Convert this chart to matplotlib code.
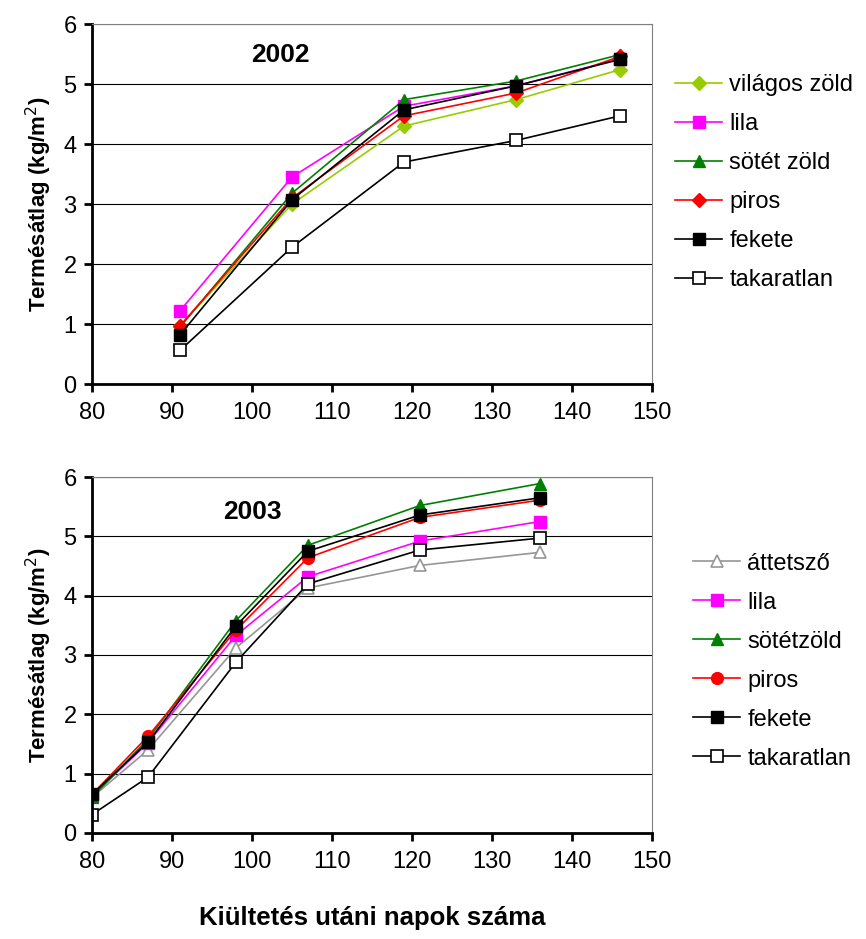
import matplotlib
matplotlib.use('Agg')
import matplotlib.pyplot as plt

plt.rcParams['font.family'] = ['Liberation Sans', 'DejaVu Sans']

# 2002 data
days_2002 = [91, 105, 119, 133, 146]
vilagos_zold_2002 = [0.97, 3.00, 4.30, 4.74, 5.24]
lila_2002 = [1.22, 3.45, 4.63, 4.97, 5.42]
sotet_zold_2002 = [0.95, 3.18, 4.74, 5.05, 5.49]
piros_2002 = [0.97, 3.10, 4.47, 4.85, 5.46]
fekete_2002 = [0.82, 3.07, 4.57, 4.97, 5.41]
takaratlan_2002 = [0.56, 2.28, 3.70, 4.06, 4.47]

# 2003 data
days_2003 = [80, 87, 98, 107, 121, 136]
attetszo_2003 = [0.60, 1.40, 3.12, 4.13, 4.51, 4.73]
lila_2003 = [0.62, 1.52, 3.33, 4.32, 4.92, 5.25]
sotetzold_2003 = [0.60, 1.58, 3.58, 4.85, 5.52, 5.89]
piros_2003 = [0.65, 1.63, 3.42, 4.64, 5.32, 5.61]
fekete_2003 = [0.65, 1.53, 3.49, 4.75, 5.36, 5.65]
takaratlan_2003 = [0.31, 0.94, 2.88, 4.20, 4.77, 4.97]

ylabel = 'Termésátlag (kg/m$^2$)'
xlabel = 'Kiültetés utáni napok száma'

fig = plt.figure(figsize=(8.66, 9.39), dpi=100)
ax1 = fig.add_axes([0.1062, 0.591, 0.6467, 0.3834])
ax2 = fig.add_axes([0.1062, 0.1129, 0.6467, 0.3791])


def style_axes(ax):
    ax.set_xlim(80, 150)
    ax.set_ylim(0, 6)
    ax.set_xticks(range(80, 151, 10))
    ax.set_yticks(range(0, 7))
    ax.yaxis.grid(True, color='black', linewidth=0.8)
    ax.set_axisbelow(True)
    for side in ['left', 'bottom']:
        ax.spines[side].set_linewidth(2)
        ax.spines[side].set_color('black')
    for side in ['top', 'right']:
        ax.spines[side].set_linewidth(0.8)
        ax.spines[side].set_color('#808080')
    ax.tick_params(axis='both', direction='out', length=6, width=2,
                   labelsize=17, pad=5)
    ax.tick_params(axis='x', pad=7)
    ax.set_ylabel(ylabel, fontsize=16, fontweight='bold', labelpad=7)


lw = 1.2
leg_kw = dict(frameon=False, fontsize=17, handlelength=2.0,
              handletextpad=0.3, labelspacing=0.72, borderpad=0,
              borderaxespad=0)

# top chart
ax1.plot(days_2002, vilagos_zold_2002, color='#99CC00', marker='D', ms=7.5,
         lw=lw, label='világos zöld')
ax1.plot(days_2002, lila_2002, color='#FF00FF', marker='s', ms=8.5,
         lw=lw, label='lila')
ax1.plot(days_2002, sotet_zold_2002, color='#008000', marker='^', ms=9,
         lw=lw, label='sötét zöld')
ax1.plot(days_2002, piros_2002, color='#FF0000', marker='D', ms=7.5,
         lw=lw, label='piros')
ax1.plot(days_2002, fekete_2002, color='black', marker='s', ms=8.5,
         lw=lw, label='fekete')
ax1.plot(days_2002, takaratlan_2002, color='black', marker='s', ms=8.5,
         mfc='white', mec='black', mew=1.2, lw=lw, label='takaratlan')
style_axes(ax1)
ax1.text(103.5, 5.48, '2002', fontsize=19, fontweight='bold',
         ha='center', va='center')
ax1.legend(loc='center left', bbox_to_anchor=(1.041, 0.56), **leg_kw)

# bottom chart
ax2.plot(days_2003, attetszo_2003, color='#969696', marker='^', ms=9,
         mfc='white', mec='#969696', mew=1.2, lw=lw, label='áttetsző')
ax2.plot(days_2003, lila_2003, color='#FF00FF', marker='s', ms=8.5,
         lw=lw, label='lila')
ax2.plot(days_2003, sotetzold_2003, color='#008000', marker='^', ms=9,
         lw=lw, label='sötétzöld')
ax2.plot(days_2003, piros_2003, color='#FF0000', marker='o', ms=8.5,
         lw=lw, label='piros')
ax2.plot(days_2003, fekete_2003, color='black', marker='s', ms=8.5,
         lw=lw, label='fekete')
ax2.plot(days_2003, takaratlan_2003, color='black', marker='s', ms=8.5,
         mfc='white', mec='black', mew=1.2, lw=lw, label='takaratlan')
style_axes(ax2)
ax2.text(100.1, 5.41, '2003', fontsize=19, fontweight='bold',
         ha='center', va='center')
ax2.legend(loc='center left', bbox_to_anchor=(1.073, 0.483), **leg_kw)
ax2.set_xlabel(xlabel, fontsize=18.5, fontweight='bold', labelpad=24)

fig.savefig('out.png', dpi=100)
